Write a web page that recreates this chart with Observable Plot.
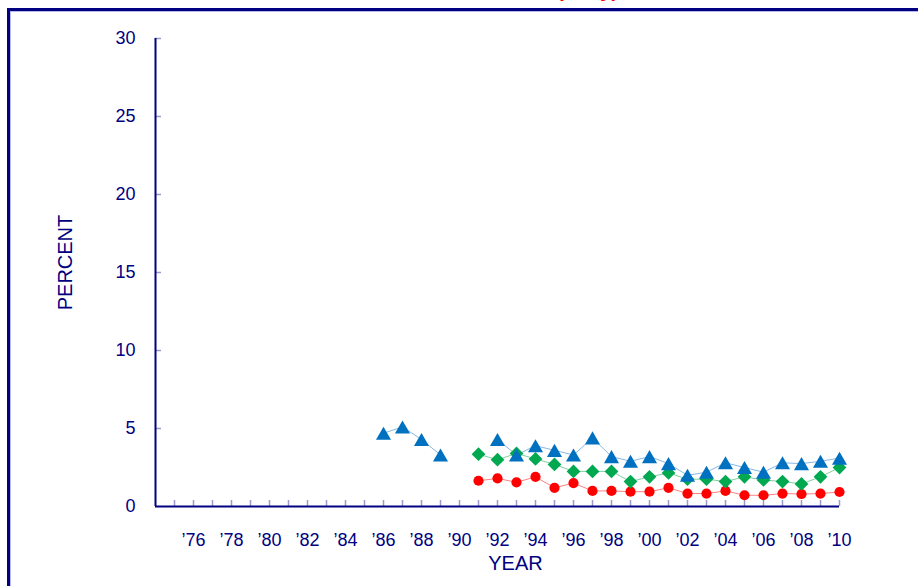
<!DOCTYPE html>
<html>
<head>
<meta charset="utf-8">
<script src="https://cdn.jsdelivr.net/npm/d3@7"></script>
<script src="https://cdn.jsdelivr.net/npm/@observablehq/plot@0.6"></script>
<style>
  html, body { margin: 0; padding: 0; background: #fff; overflow: hidden; }
  #wrap { position: relative; width: 918px; height: 586px; overflow: hidden; }
  #box { position: absolute; left: 7px; top: 8px; width: 1000px; height: 700px;
         border: 3px solid #000080; box-shadow: inset 0 0 0 1px #b8b8e8; box-sizing: border-box; }
  #title { position: absolute; left: 557px; top: -21px; line-height: 1; white-space: nowrap;
           font: bold 20px "Liberation Sans", Arial, sans-serif; color: #ff0000; }
  #chart { position: absolute; left: 0; top: 0; }
</style>
</head>
<body>
<div id="wrap">
  <div id="box"></div>
  <div id="title">(Daily)</div>
  <div id="chart"></div>
</div>
<script>
const years = [1986,1987,1988,1989,1990,1991,1992,1993,1994,1995,1996,1997,1998,1999,2000,2001,2002,2003,2004,2005,2006,2007,2008,2009,2010];
const blueSeries  = [4.7,5.1,4.3,3.3,null,null,4.3,3.3,3.9,3.6,3.3,4.4,3.2,2.9,3.2,2.75,2.0,2.2,2.8,2.5,2.2,2.8,2.75,2.9,3.1];
const greenSeries = [null,null,null,null,null,3.35,3.0,3.4,3.05,2.7,2.25,2.25,2.25,1.6,1.9,2.15,1.75,1.75,1.6,1.9,1.7,1.6,1.45,1.9,2.5];
const redSeries   = [null,null,null,null,null,1.65,1.8,1.55,1.9,1.2,1.5,1.0,1.0,0.95,0.95,1.2,0.83,0.83,1.0,0.72,0.72,0.83,0.8,0.83,0.93];
const xTickYears = d3.range(1975, 2011);
const xLabelYears = d3.range(1976, 2011, 2);
const yTickValues = [0,5,10,15,20,25,30];

const rows = (vals) => years.map((y, i) => ({year: y, value: vals[i]}));
const blue = rows(blueSeries), green = rows(greenSeries), red = rows(redSeries);
const defined = (arr) => arr.filter(d => d.value != null);

const navy = "#000080";
const tickColor = "#9a9acc";

const chart = Plot.plot({
  width: 918,
  height: 586,
  marginLeft: 155,
  marginRight: 79,
  marginTop: 38,
  marginBottom: 80,
  style: {fontFamily: "'Liberation Sans', Arial, sans-serif", fontSize: "18px", color: navy, background: "transparent", overflow: "visible"},
  x: {domain: [1974, 2010], ticks: xLabelYears, tickSize: 0, tickPadding: 27,
      tickFormat: d => "\u2019" + String(d).slice(2), label: null},
  y: {domain: [0, 30], ticks: yTickValues, tickSize: 0, tickPadding: 20, label: null},
  marks: [
    Plot.tickX(xTickYears, {x: d => d, stroke: tickColor, strokeWidth: 1.5, insetTop: 462}),
    Plot.tickY(yTickValues.filter(v => v > 0), {y: d => d, stroke: tickColor, strokeWidth: 1.5, insetRight: 678}),
    Plot.ruleY([0], {stroke: navy, strokeWidth: 2}),
    Plot.ruleX([1974], {stroke: navy, strokeWidth: 2}),
    Plot.line(red, {x: "year", y: "value", stroke: "#ff8080", strokeWidth: 1}),
    Plot.line(green, {x: "year", y: "value", stroke: "#80d0a0", strokeWidth: 1}),
    Plot.line(blue, {x: "year", y: "value", stroke: "#88b8e4", strokeWidth: 1}),
    Plot.dot(defined(red), {x: "year", y: "value", r: 5.1, fill: "#ff0000", stroke: "none"}),
    Plot.dot(defined(green), {x: "year", y: "value", r: 6.2, symbol: "diamond2", fill: "#00a850", stroke: "none"}),
    Plot.dot(defined(blue), {x: "year", y: "value", r: 7.2, symbol: "triangle2", fill: "#0070c0", stroke: "none", dy: 2.2}),
    Plot.text(["YEAR"], {frameAnchor: "bottom", lineAnchor: "middle", dx: 18, dy: 57, fontSize: 20, fill: navy}),
    Plot.text(["PERCENT"], {frameAnchor: "left", textAnchor: "middle", lineAnchor: "middle", dx: -90, dy: -10, rotate: -90, fontSize: 20, fill: navy})
  ]
});
document.getElementById("chart").appendChild(chart);
</script>
</body>
</html>
